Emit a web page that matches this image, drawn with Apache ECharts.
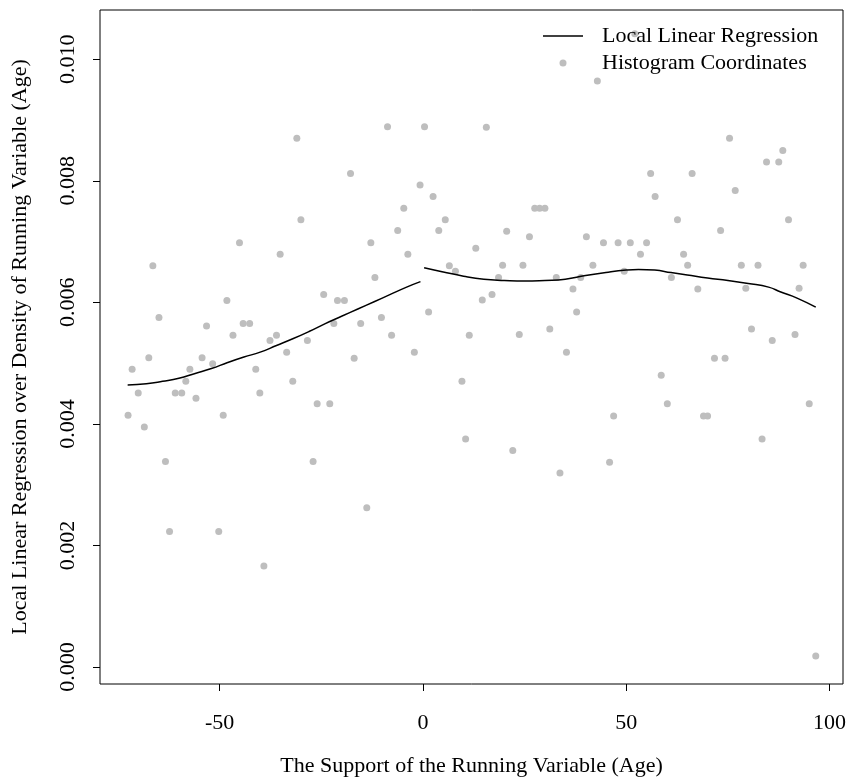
<!DOCTYPE html>
<html>
<head>
<meta charset="utf-8">
<script src="https://cdn.jsdelivr.net/npm/echarts@6/dist/echarts.min.js"></script>
<style>
html,body{margin:0;padding:0;background:#fff;}
#chart{width:852px;height:779px;}
</style>
</head>
<body>
<div id="chart"></div>
<script>
// ---- data ----
var pointX = [
  -72.5,-71.5,-70.0,-68.5,-67.4,-66.4,-64.9,-63.3,-62.3,-60.9,-59.3,-58.3,-57.3,-55.8,-54.3,-53.2,-51.7,-50.2,-49.1,-48.2,
  -46.7,-45.1,-44.2,-42.6,-41.1,-40.1,-39.1,-37.6,-36.0,-35.1,-33.5,-32.0,-31.0,-30.0,-28.4,-27.0,-26.0,-24.4,-22.9,-21.9,-21.0,-19.3,
  -17.8,-16.9,-15.3,-13.8,-12.8,-11.8,-10.2,-8.7,-7.7,-6.2,-4.7,-3.7,-2.1,-0.7,
  0.4,1.4,2.5,3.9,5.5,6.5,8.0,9.6,10.5,11.4,
  13.0,14.6,15.6,17.0,18.6,19.6,20.6,22.1,23.7,24.6,26.2,27.5,28.7,30.0,31.2,32.8,33.7,35.3,36.9,37.8,38.8,40.2,
  41.8,42.9,44.4,45.9,46.9,48.0,49.5,51.0,52.1,53.5,55.0,56.0,57.1,58.6,60.1,61.1,62.6,64.1,65.1,66.2,67.6,69.0,70.0,
  71.7,73.2,74.3,75.4,76.8,78.3,79.4,80.8,82.4,83.4,84.5,85.9,87.5,88.5,89.9,91.5,92.5,93.5,95.0,96.6
];
var pointY = [
  0.00414,0.00490,0.00451,0.00395,0.00509,0.00660,0.00575,0.00338,0.00223,0.00451,0.00451,0.00470,0.00490,0.00442,0.00509,0.00561,0.00499,0.00223,0.00414,0.00603,
  0.00546,0.00698,0.00565,0.00565,0.00490,0.00451,0.00166,0.00537,0.00546,0.00679,0.00518,0.00470,0.00870,0.00736,0.00537,0.00338,0.00433,0.00613,0.00433,0.00565,0.00603,0.00603,
  0.00812,0.00508,0.00565,0.00262,0.00698,0.00641,0.00575,0.00889,0.00546,0.00718,0.00755,0.00679,0.00518,0.00793,
  0.00889,0.00584,0.00774,0.00718,0.00736,0.00660,0.00651,0.00470,0.00375,0.00546,
  0.00689,0.00604,0.00888,0.00613,0.00641,0.00661,0.00717,0.00356,0.00547,0.00661,0.00708,0.00755,0.00755,0.00755,0.00556,0.00641,0.00319,0.00518,0.00622,0.00584,0.00641,0.00708,
  0.00661,0.00964,0.00698,0.00337,0.00413,0.00698,0.00651,0.00698,0.01042,0.00679,0.00698,0.00812,0.00774,0.00480,0.00433,0.00641,0.00736,0.00679,0.00661,0.00812,0.00622,0.00413,0.00413,
  0.00508,0.00718,0.00508,0.00870,0.00784,0.00661,0.00623,0.00556,0.00661,0.00375,0.00831,0.00537,0.00831,0.00850,0.00736,0.00547,0.00623,0.00661,0.00433,0.00018
];
var leftLineX = [-72.6,-68,-64,-60,-56,-52,-48,-44,-40,-36,-32,-28,-24,-20,-16,-12,-8,-4,-0.6];
var leftLineY = [0.00464,0.00466,0.00470,0.00475,0.00483,0.00491,0.00501,0.00510,0.00518,0.00529,0.00540,0.00552,0.00565,0.00577,0.00589,0.00601,0.00613,0.00625,0.00634];
var rightLineX = [0.3,5,10,15,20,25,30,35,40,45,50,53,57,61,65,70,75,80,85,88,92,96.6];
var rightLineY = [0.00657,0.00650,0.00643,0.00638,0.00636,0.00635,0.00636,0.00638,0.00644,0.00649,0.00653,0.00654,0.00653,0.00649,0.00645,0.00640,0.00636,0.00631,0.00625,0.00617,0.00607,0.00592];
var xTicks = [-50, 0, 50, 100];
var xTickLabels = ['-50', '0', '50', '100'];
var yTicks = [0, 0.002, 0.004, 0.006, 0.008, 0.010];
var yTickLabels = ['0.000', '0.002', '0.004', '0.006', '0.008', '0.010'];
var lineName = 'Local Linear Regression';
var pointName = 'Histogram Coordinates';
var xTitle = 'The Support of the Running Variable (Age)';
var yTitle = 'Local Linear Regression over Density of Running Variable (Age)';

// ---- build ----
var FONT = 'Liberation Serif';
var scatterData = pointX.map(function (x, i) { return [x, pointY[i]]; });
var lineData = leftLineX.map(function (x, i) { return [x, leftLineY[i]]; });
lineData.push(['-', '-']);
rightLineX.forEach(function (x, i) { lineData.push([x, rightLineY[i]]); });

function labelFor(ticks, labels) {
  return function (v) {
    for (var i = 0; i < ticks.length; i++) {
      if (Math.abs(ticks[i] - v) < 1e-9) return labels[i];
    }
    return '';
  };
}

var chart = echarts.init(document.getElementById('chart'), null, { renderer: 'canvas' });
chart.setOption({
  animation: false,
  backgroundColor: '#ffffff',
  grid: {
    left: 100, right: 9, top: 10, bottom: 95, containLabel: false, outerBoundsMode: 'none',
    show: true, borderColor: '#000', borderWidth: 1, backgroundColor: 'transparent'
  },
  legend: {
    left: 538, top: 20, orient: 'vertical',
    itemWidth: 40, itemHeight: 7, itemGap: 5,
    textStyle: { fontFamily: FONT, fontSize: 22, color: '#000', padding: [0, 0, 0, 14] },
    data: [
      { name: lineName, icon: 'path://M0,0H40V1.5H0Z', itemStyle: { color: '#000' } },
      { name: pointName, icon: 'circle' }
    ]
  },
  xAxis: {
    type: 'value', min: -79.4, max: 103.3,
    name: xTitle, nameLocation: 'middle', nameGap: 71,
    nameTextStyle: { fontFamily: FONT, fontSize: 22, color: '#000' },
    axisLine: { show: false, onZero: false },
    splitLine: { show: false },
    axisTick: { show: true, length: 7, customValues: xTicks, lineStyle: { color: '#000' } },
    axisLabel: { customValues: xTicks, formatter: labelFor(xTicks, xTickLabels), margin: 28, fontFamily: FONT, fontSize: 22, color: '#000' }
  },
  yAxis: {
    type: 'value', min: -0.00028, max: 0.01081,
    name: yTitle, nameLocation: 'middle', nameGap: 69,
    nameTextStyle: { fontFamily: FONT, fontSize: 22, color: '#000' },
    axisLine: { show: false, onZero: false },
    splitLine: { show: false },
    axisTick: { show: true, length: 7, customValues: yTicks, lineStyle: { color: '#000' } },
    axisLabel: { customValues: yTicks, formatter: labelFor(yTicks, yTickLabels), rotate: 90, margin: 21, fontFamily: FONT, fontSize: 22, color: '#000' }
  },
  series: [
    {
      name: lineName, type: 'line', data: lineData, showSymbol: false, symbol: 'none',
      smooth: true, connectNulls: false,
      lineStyle: { color: '#000', width: 1.5 }, itemStyle: { color: '#000' }, z: 3
    },
    {
      name: pointName, type: 'scatter', data: scatterData, symbol: 'circle', symbolSize: 7,
      itemStyle: { color: '#BEBEBE', opacity: 1 }, z: 2
    }
  ]
});
</script>
</body>
</html>
